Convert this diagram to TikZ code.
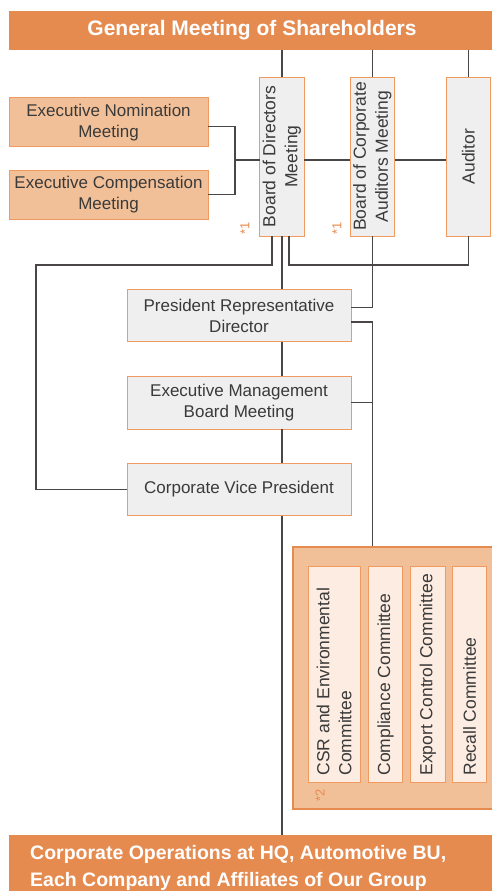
\documentclass[tikz,border=0pt]{standalone}
\usepackage{fontspec}
\setmainfont{Liberation Sans}
\definecolor{barorange}{HTML}{E58B50}
\definecolor{lineorange}{HTML}{F09A60}
\definecolor{paleorange}{HTML}{F2C098}
\definecolor{paleinner}{HTML}{FCECE1}
\definecolor{boxgray}{HTML}{EFEFEF}
\definecolor{txtgray}{HTML}{3A3A3A}
\definecolor{linkgray}{HTML}{4A4646}
\tikzset{
	orgbox/.style={draw=lineorange,line width=0.9pt,inner sep=0pt,outer sep=0pt,anchor=north west,text=txtgray,align=center,font=\fontsize{17}{21}\selectfont},
	graybox/.style={orgbox,fill=boxgray},
	peachbox/.style={orgbox,fill=paleorange},
	cmtbox/.style={orgbox,fill=paleinner},
	vtext/.style={rotate=90,inner sep=0pt,text=txtgray,align=center,font=\fontsize{17.5}{22}\selectfont},
	bar/.style={fill=barorange,inner sep=0pt,outer sep=0pt,anchor=north west,text=white},
	link/.style={draw=linkgray,line width=1.1pt},
	note/.style={rotate=90,inner sep=0pt,text=barorange,font=\fontsize{13}{13}\selectfont},
}
\begin{document}
\begin{tikzpicture}[x=1pt,y=-1pt]
	\useasboundingbox (0,0) rectangle (492,891);
	\node[bar,minimum width=486pt,minimum height=39pt,font=\bfseries\fontsize{21}{25}\selectfont] (gms) at (9,11) {General Meeting of Shareholders};
	\node[peachbox,minimum width=199pt,minimum height=49pt] (nom) at (9,97.7) {Executive Nomination\\Meeting};
	\node[peachbox,minimum width=199pt,minimum height=49pt] (comp) at (9,170) {Executive Compensation\\Meeting};
	\foreach \nm/\x/\t in {bod/259.7/{Board of Directors\\Meeting},boca/350/{Board of Corporate\\Auditors Meeting},aud/446/Auditor}{
		\node[graybox,minimum width=44.5pt,minimum height=159pt] (\nm) at (\x,77) {};
		\node[vtext] (\nm-t) at (\nm) {\t};
	}
	\node[note] (n1) at (245,228) {*1};
	\node[note] (n2) at (337,228) {*1};
	\node[graybox,minimum width=224pt,minimum height=52.4pt] (pres) at (127,289.3) {President Representative\\Director};
	\node[graybox,minimum width=224pt,minimum height=52.7pt] (emb) at (127,376.3) {Executive Management\\Board Meeting};
	\node[graybox,minimum width=224pt,minimum height=52.4pt] (cvp) at (127,463.3) {Corporate Vice President};
	\node[draw=barorange,fill=paleorange,line width=1.6pt,inner sep=0pt,anchor=north west,minimum width=206pt,minimum height=262pt] (cmt) at (292,546) {};
	\foreach \nm/\x/\w/\t in {csr/308/52/{CSR and Environmental\\Committee},cpl/368.3/34.4/Compliance Committee,exp/410.7/34.3/Export Control Committee,rcl/452.7/34/Recall Committee}{
		\node[cmtbox,minimum width=\w pt,minimum height=216pt] (\nm) at (\x,566.7) {};
		\node[vtext,anchor=west,align=left] (\nm-t) at ([yshift=7pt]\nm.south) {\t};
	}
	\node[note] (n3) at (320,795) {*2};
	\node[bar,minimum width=486pt,minimum height=60pt] (ops) at (9,835) {};
	\node[anchor=base west,inner sep=0pt,text=white,align=left,font=\bfseries\fontsize{19.5}{27}\selectfont] (ops-t) at (30,886) {Corporate Operations at HQ, Automotive BU,\\Each Company and Affiliates of Our Group};
	\coordinate (bus) at (235,160);
	\coordinate (rail) at (36,265);
	\draw[link] (gms.south -| bod.north) -- (bod.north) (gms.south -| boca.north) -- (boca.north) (gms.south -| aud.north) -- (aud.north);
	\draw[link] ([yshift=-4.5pt]nom.east) -| (bus) |- (comp.east);
	\draw[link] (bus) -- (bus -| bod.west) (bus -| bod.east) -- (bus -| boca.west) (bus -| boca.east) -- (bus -| aud.west);
	\draw[link] ([xshift=-10pt]bod.south) |- (rail) |- (cvp.west);
	\draw[link] ([xshift=7pt]bod.south) |- (rail -| aud.south) -- (aud.south);
	\draw[link] (bod.south) -- (bod.south |- pres.north) (bod.south |- pres.south) -- (bod.south |- emb.north) (bod.south |- emb.south) -- (bod.south |- cvp.north) (bod.south |- cvp.south) -- (bod.south |- ops.north);
	\draw[link] (boca.south) |- ([yshift=7.8pt]pres.east);
	\draw[link] ([yshift=-6.5pt]pres.east) -| (boca.south |- cmt.north);
	\draw[link] (emb.east) -- (emb.east -| boca.south);
\end{tikzpicture}
\end{document}
